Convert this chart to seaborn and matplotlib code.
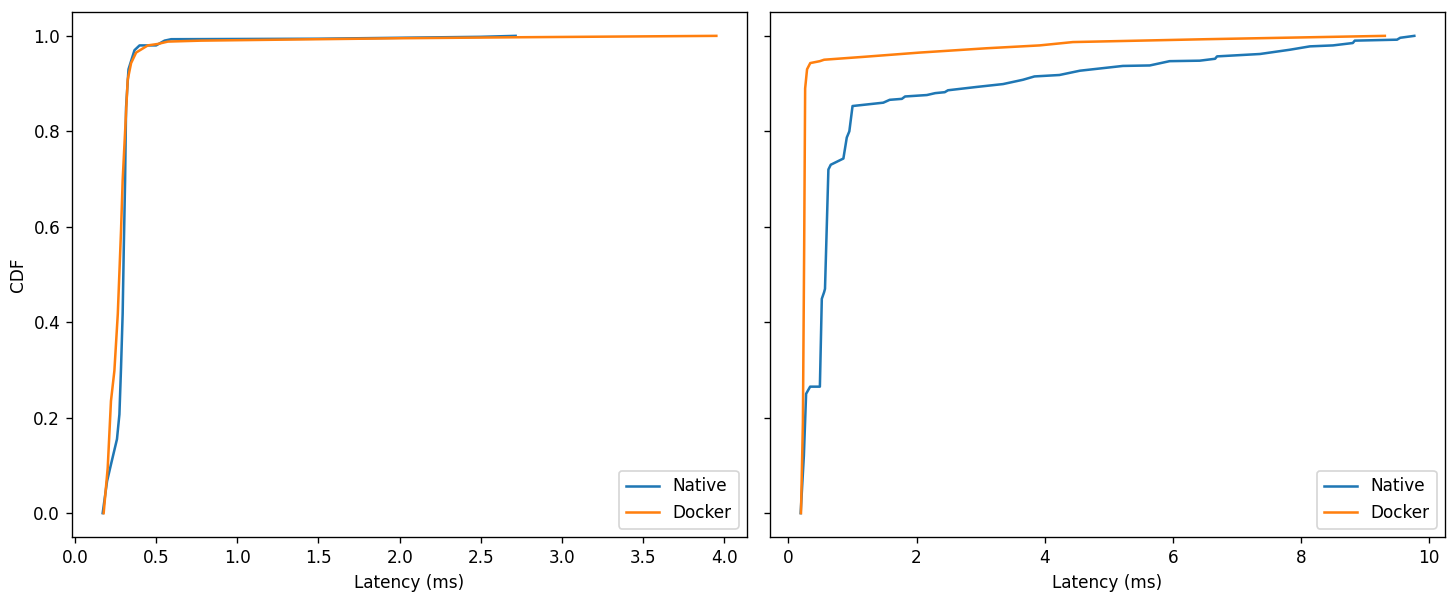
import pandas as pd
import numpy as np
import seaborn as sns
import matplotlib.pyplot as plt

# left panel: latency (ms) / CDF
left_native_x = [0.171, 0.198, 0.222, 0.259, 0.274, 0.284, 0.294, 0.301, 0.309, 0.315,
                 0.33, 0.367, 0.398, 0.50, 0.552, 0.593, 1.5, 2.0, 2.5, 2.714]
left_native_y = [0.0, 0.067, 0.102, 0.155, 0.207, 0.305, 0.418, 0.557, 0.697, 0.85,
                 0.93, 0.97, 0.98, 0.98, 0.99, 0.993, 0.994, 0.996, 0.998, 1.0]
left_docker_x = [0.177, 0.202, 0.222, 0.243, 0.264, 0.284, 0.294, 0.325, 0.346, 0.377,
                 0.449, 0.51, 0.572, 0.776, 1.5, 2.0, 2.7, 3.95]
left_docker_y = [0.0, 0.095, 0.235, 0.298, 0.417, 0.592, 0.697, 0.908, 0.943, 0.965,
                 0.98, 0.983, 0.988, 0.99, 0.993, 0.995, 0.997, 1.0]

# right panel
right_native_x = [0.19, 0.24, 0.275, 0.338, 0.49, 0.52, 0.556, 0.57, 0.623, 0.66,
                  0.857, 0.91, 0.95, 1.0, 1.48, 1.58, 1.77, 1.82, 2.16, 2.29,
                  2.44, 2.49, 2.94, 3.35, 3.66, 3.84, 4.23, 4.55, 5.22, 5.64,
                  5.95, 6.42, 6.66, 6.69, 7.36, 7.83, 8.14, 8.5, 8.81, 8.84,
                  9.5, 9.55, 9.77]
right_native_y = [0.0, 0.12, 0.25, 0.265, 0.265, 0.449, 0.463, 0.47, 0.72, 0.73,
                  0.743, 0.787, 0.80, 0.853, 0.86, 0.866, 0.868, 0.873, 0.876, 0.88,
                  0.882, 0.886, 0.893, 0.899, 0.908, 0.915, 0.918, 0.927, 0.937, 0.938,
                  0.947, 0.948, 0.952, 0.957, 0.962, 0.971, 0.978, 0.98, 0.985, 0.99,
                  0.992, 0.996, 1.0]
right_docker_x = [0.195, 0.225, 0.245, 0.26, 0.29, 0.34, 0.49, 0.556, 1.17, 2.05,
                  3.09, 3.92, 4.44, 6.52, 9.31]
right_docker_y = [0.0, 0.19, 0.56, 0.89, 0.93, 0.943, 0.947, 0.95, 0.956, 0.965,
                  0.974, 0.98, 0.987, 0.993, 1.0]


def make_df(nx, ny, dx, dy):
    a = pd.DataFrame({'Latency': nx, 'CDF': ny, 'System': 'Native'})
    b = pd.DataFrame({'Latency': dx, 'CDF': dy, 'System': 'Docker'})
    return pd.concat([a, b], ignore_index=True)


df_left = make_df(left_native_x, left_native_y, left_docker_x, left_docker_y)
df_right = make_df(right_native_x, right_native_y, right_docker_x, right_docker_y)

pal = {'Native': '#1f77b4', 'Docker': '#ff7f0e'}

dpi = 121.33
fig, axes = plt.subplots(1, 2, figsize=(1456 / dpi, 599 / dpi), dpi=dpi, sharey=True)

for ax, d in zip(axes, [df_left, df_right]):
    sns.lineplot(data=d, x='Latency', y='CDF', hue='System', palette=pal,
                 estimator=None, sort=False, ax=ax)
    ax.set_xlabel('Latency (ms)')
    ax.legend(loc='lower right')

axes[0].set_ylabel('CDF')
axes[1].set_ylabel('')

plt.subplots_adjust(left=72 / 1456, right=1445 / 1456, top=1 - 12 / 599,
                    bottom=1 - 537 / 599, wspace=0.034)
plt.savefig('out.png', dpi=dpi)
